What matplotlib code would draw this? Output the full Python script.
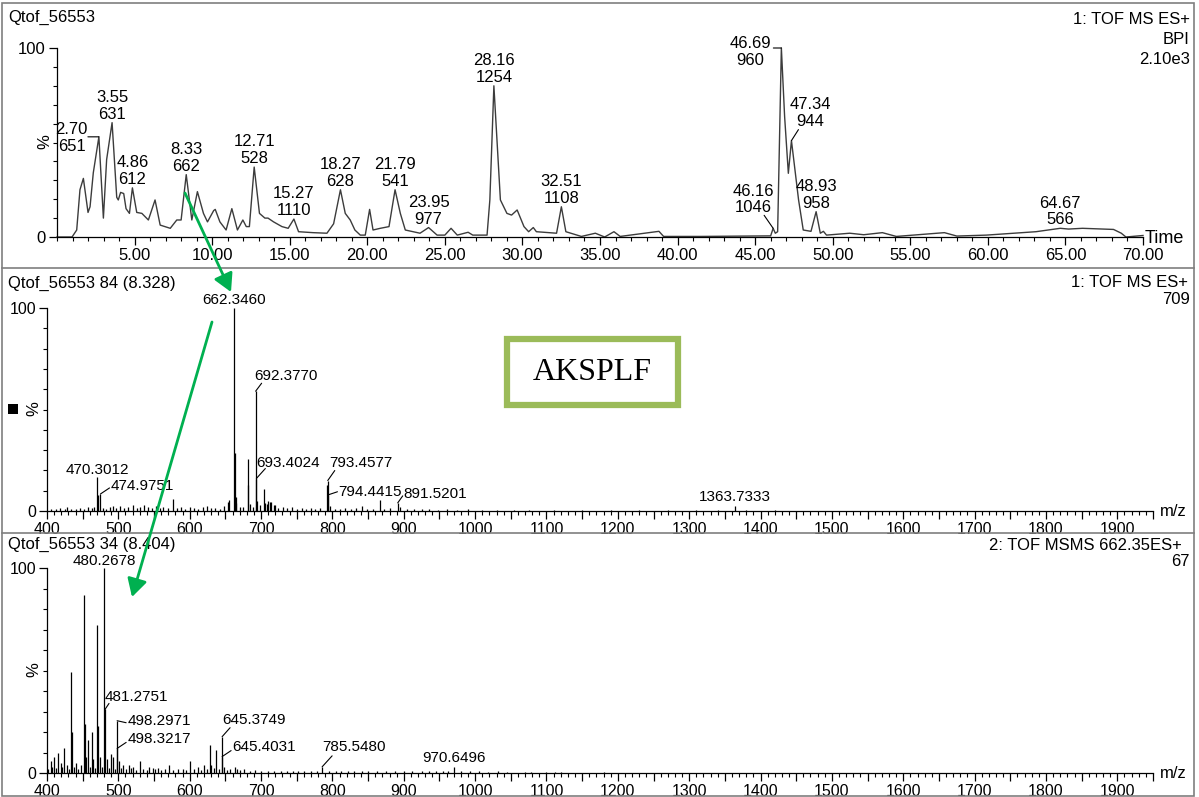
import matplotlib
matplotlib.use('Agg')
import numpy as np
import matplotlib.pyplot as plt
from matplotlib.patches import Rectangle, FancyArrowPatch
from matplotlib.lines import Line2D
from matplotlib.ticker import MultipleLocator, FixedLocator, FuncFormatter

plt.rcParams['font.family'] = ['Liberation Sans', 'DejaVu Sans']

# ---------------- data ----------------
# Base peak chromatogram (time in min, % intensity)
tic_time = [0.0, 0.97, 1.27, 1.48, 1.70, 2.00, 2.13, 2.34, 2.70, 2.99, 3.20, 3.55, 3.85, 3.95,
            4.10, 4.30, 4.45, 4.67, 4.86, 5.14, 5.47, 5.89, 6.32, 6.65, 7.30, 7.72, 8.00, 8.33,
            8.69, 9.05, 9.44, 9.70, 10.10, 10.20, 10.50, 10.90, 11.27, 11.63, 11.98, 12.20, 12.40,
            12.71, 13.05, 13.40, 13.60, 13.96, 14.50, 14.90, 15.27, 15.57, 16.50, 17.40, 17.83,
            18.27, 18.58, 18.90, 19.20, 19.55, 19.87, 20.15, 20.37, 20.84, 21.40, 21.79, 22.13,
            22.45, 23.40, 23.95, 24.50, 25.00, 25.40, 25.80, 26.50, 26.80, 27.72, 27.90, 28.16,
            28.58, 29.00, 29.30, 29.66, 30.10, 30.40, 30.70, 30.90, 32.20, 32.51, 32.80, 33.80,
            34.70, 35.30, 35.90, 36.30, 38.80, 39.10, 41.50, 46.00, 46.16, 46.30, 46.45, 46.69,
            46.90, 47.14, 47.34, 47.80, 48.10, 48.60, 48.93, 49.20, 49.40, 49.60, 51.10, 52.00,
            53.20, 54.10, 57.20, 58.00, 59.90, 63.10, 64.67, 65.20, 66.10, 68.10, 68.60, 68.90, 70.00]
tic_pct = [0.0, 0.0, 3.7, 25, 31, 13, 16, 34, 53, 10, 41, 60.5, 21, 19.6,
           23.6, 23, 15, 12.5, 26, 13, 12.5, 9, 19.6, 6.3, 4.6, 9, 9, 33,
           9, 24, 12.5, 8, 14, 14.6, 8, 3.7, 15, 3.7, 9, 5.5, 5.5,
           37, 12.5, 10, 10, 8, 5.5, 4.6, 9.5, 2.8, 2.3, 2, 7,
           25, 12.5, 9, 3.7, 1, 1, 14.6, 3.7, 4.6, 5.5, 25, 12.5,
           3.7, 2, 5, 1, 1, 4.6, 1, 2.5, 1, 1, 19.6, 80,
           19.6, 12.5, 11.6, 14.3, 5.5, 2.8, 5, 2.8, 2, 16, 2.8, 0.3,
           2, 0, 2.8, 0.3, 3, 0.3, 0.3, 0.6, 4.6, 2, 2.8, 100,
           63.7, 33.7, 51, 19.6, 3.7, 3, 13.4, 2, 3, 1, 2, 1.2,
           2.3, 0.3, 2.3, 0.5, 1, 2.8, 4.6, 4.2, 4.6, 4, 2, 0, 0.8]
tic_label_rt = [2.70, 3.55, 4.86, 8.33, 12.71, 15.27, 18.27, 21.79, 23.95, 28.16, 32.51,
                46.16, 46.69, 47.34, 48.93, 64.67]
tic_label_mz = ['651', '631', '612', '662', '528', '1110', '628', '541', '977', '1254', '1108',
                '1046', '960', '944', '958', '566']

# MS scan 84 (8.328 min)
ms1_mz = [470.3012, 471.30, 474.9751, 576.3, 655.3, 662.3460, 663.35, 664.35, 665.3, 681.3, 682.3,
          692.3770, 693.4024, 694.4, 704.4, 705.4, 710.4, 712.4, 720.0, 792.4, 793.4577, 794.4415,
          866.0, 891.5201, 1363.7333,
          405, 412, 418, 425, 428, 433, 440, 446, 452, 458, 463, 466, 478, 483, 488, 492, 497,
          503, 508, 514, 520, 526, 531, 536, 541, 547, 553, 558, 563, 569, 582, 588, 594, 600,
          606, 612, 618, 624, 630, 636, 642, 648, 653, 670, 675, 684, 688, 698, 708, 714,
          718, 724, 731, 737, 744, 750, 757, 763, 770, 776, 783, 797, 803, 810, 818, 826, 833,
          841, 849, 857, 872, 880, 895, 905, 915, 925, 936, 948, 960, 975, 990, 1010, 1030,
          1055, 1075, 1110, 1150, 1190, 1230, 1270, 1310, 1340, 1380, 1420]
ms1_int = [16.6, 8, 8.4, 5.7, 5.5, 100, 28.5, 7, 4, 25.5, 13,
           59, 16, 5, 11, 4, 5, 4.5, 3, 13, 15, 8,
           5.4, 4, 2.5,
           1.2, 0.8, 1.5, 1.0, 2.0, 1.2, 0.9, 1.6, 1.1, 1.8, 1.3, 2.2, 1.6, 1.2, 2.0, 2.6, 1.4,
           2.3, 1.5, 1.9, 2.8, 1.4, 2.2, 3.0, 1.8, 1.5, 2.4, 1.3, 2.0, 1.6, 1.4, 2.1, 1.2, 1.8,
           1.5, 1.1, 2.0, 2.6, 1.4, 1.7, 1.2, 2.4, 4.5, 2.0, 2.2, 3.5, 2.0, 2.8, 3.5, 4.5,
           3.0, 1.6, 2.2, 1.4, 1.8, 1.2, 1.6, 1.1, 1.4, 1.0, 1.5, 2.5, 1.2, 1.0, 1.6, 0.9, 1.3,
           2.4, 1.0, 1.2, 1.0, 1.4, 2.0, 1.0, 1.2, 0.8, 1.0, 0.7, 0.9, 0.6, 0.8, 0.6, 0.5,
           0.6, 0.5, 0.5, 0.4, 0.5, 0.4, 0.4, 0.5, 0.6, 0.4, 0.4]
ms1_labels = [662.3460, 692.3770, 693.4024, 470.3012, 474.9751, 793.4577, 794.4415, 891.5201, 1363.7333]

# MS/MS scan 34 (8.404 min), precursor 662.35
ms2_mz = [480.2678, 481.2751, 498.2971, 498.3217, 645.3749, 645.4031, 785.5480, 970.6496,
          405, 410, 416, 419, 424, 428, 434.3, 435.3, 441, 448, 452.3, 453.3, 455, 457, 463, 464,
          470.3, 471.3, 474, 484, 490, 492, 501, 507, 515, 521, 530, 543, 548, 556, 571, 583,
          600, 612, 620, 628, 630, 637.4, 648, 663, 666,
          402, 407, 413, 421, 431, 438, 444, 460, 467, 477, 487, 495, 504, 511, 518, 525, 535,
          540, 552, 560, 565, 577, 590, 595, 606, 616, 624, 634, 641, 652, 657, 670, 676, 685,
          692, 700, 710, 718, 728, 736, 745, 752, 760, 770, 778, 795, 805, 812, 822, 830, 842,
          850, 862, 875, 888, 900, 912, 925, 935, 945, 955, 962, 980, 993, 1005, 1018, 1032,
          1045, 1070, 1078, 1100, 1112, 1120, 1180]
ms2_int = [100, 31, 25.5, 12, 17.7, 8, 3, 3,
           6, 8, 10, 5, 12, 4, 49.4, 20, 5, 4, 87, 24, 8, 16, 20, 7,
           72, 23, 8, 7, 9.5, 8, 6, 4, 4, 3, 6, 3, 2.5, 2.5, 4, 2,
           6, 3, 4, 13.6, 4, 11, 3, 3, 2,
           2, 3, 2.5, 3, 2, 3, 2, 3, 2.5, 3, 2.5, 2, 2.5, 2, 2.5, 1.5, 2,
           1.5, 2, 1.5, 2, 1.5, 2, 1.5, 2, 1.5, 2, 2.5, 2, 1.5, 2, 1.5, 2, 1,
           1.5, 1, 1.2, 1, 1.2, 0.8, 1, 0.8, 1, 0.8, 1.2, 0.8, 1, 0.8, 1, 0.8, 1,
           0.8, 1, 0.8, 1, 0.8, 1, 0.8, 1, 0.8, 1, 0.8, 1, 1.2, 0.8, 0.7, 0.8,
           0.7, 0.6, 0.6, 0.6, 0.7, 0.6, 0.5]
ms2_labels = [480.2678, 481.2751, 498.2971, 498.3217, 645.3749, 645.4031, 785.5480, 970.6496]

# ---------------- layout ----------------
W, H = 1199, 797
fig = plt.figure(figsize=(W / 100, H / 100), dpi=100)


def add_ax(x0, ytop, x1, ybot):
    return fig.add_axes([x0 / W, 1 - ybot / H, (x1 - x0) / W, (ybot - ytop) / H])


def ftext(px, py, s, **kw):
    fig.text(px / W, 1 - py / H, s, **kw)


def style(ax, fs):
    for s in ['top', 'right']:
        ax.spines[s].set_visible(False)
    for s in ['left', 'bottom']:
        ax.spines[s].set_linewidth(0.9)
        ax.spines[s].set_color('black')
    ax.set_ylim(0, 100)
    ax.yaxis.set_major_locator(FixedLocator([0, 100]))
    ax.yaxis.set_minor_locator(MultipleLocator(10))
    ax.tick_params(axis='both', which='major', direction='out', length=6, width=0.9,
                   labelsize=fs, pad=2, colors='black')
    ax.tick_params(axis='both', which='minor', direction='out', length=3, width=0.8)
    ax.patch.set_alpha(0)


def label(ax, x, y, text, fs, dx=0, dy=1, ha='center', va='bottom', leader=None):
    ax.annotate(text, (x, y), xytext=(dx, dy), textcoords='offset pixels', ha=ha, va=va,
                fontsize=fs, multialignment='center', annotation_clip=False, linespacing=1.15)
    if leader is not None:
        ax.annotate('', (x, y), xytext=leader, textcoords='offset pixels', annotation_clip=False,
                    arrowprops=dict(arrowstyle='-', lw=0.8, color='black', shrinkA=0, shrinkB=0))


# panel frames
fig.add_artist(Rectangle((2 / W, 1 - 796 / H), 1192 / W, 793 / H, transform=fig.transFigure,
                         fill=False, edgecolor='#7f7f7f', lw=1.2))
for yy in (268, 533):
    fig.add_artist(Line2D([2 / W, 1194 / W], [1 - yy / H, 1 - yy / H], transform=fig.transFigure,
                          color='#7f7f7f', lw=1.2))

# ---- top: chromatogram ----
ax1 = add_ax(57, 48, 1143, 237)
style(ax1, 12)
ax1.set_xlim(0, 70)
ax1.xaxis.set_major_locator(FixedLocator(list(range(5, 71, 5))))
ax1.xaxis.set_major_formatter(FuncFormatter(lambda v, p: f"{v:.2f}"))
ax1.xaxis.set_minor_locator(MultipleLocator(1))
ax1.plot(tic_time, tic_pct, color='#3c3c3c', lw=1.0, clip_on=False)

top_layout = {
    2.70: dict(dx=-11, dy=-1, ha='right', va='center', leader=(-11, 0)),
    46.69: dict(dx=-10, dy=-4, ha='right', va='center', leader=(-8, 0)),
    46.16: dict(dx=-20, dy=13, leader=(-9, 13)),
    47.34: dict(dx=19, dy=12, leader=(7, 11)),
}
for rt, lab in zip(tic_label_rt, tic_label_mz):
    y = float(np.interp(rt, tic_time, tic_pct))
    kw = top_layout.get(rt, {})
    label(ax1, rt, y, f"{rt:.2f}\n{lab}", 12, **kw)

ftext(8, 17, "Qtof_56553", fontsize=12, ha='left', va='center')
ftext(1190, 19, "1: TOF MS ES+", fontsize=12, ha='right', va='center')
ftext(1190, 39, "BPI", fontsize=12, ha='right', va='center')
ftext(1190, 60, "2.10e3", fontsize=12, ha='right', va='center')
ftext(1145, 238, "Time", fontsize=13, ha='left', va='center')
ftext(45, 142, "%", fontsize=12, ha='center', va='center', rotation=90)


def spectrum_axes(ytop, ybot):
    ax = add_ax(47, ytop, 1153, ybot)
    style(ax, 11.5)
    ax.set_xlim(400, 1950)
    ax.xaxis.set_major_locator(MultipleLocator(50))
    ax.xaxis.set_major_formatter(FuncFormatter(lambda v, p: f"{v:.0f}" if abs(v % 100) < 1e-6 else ""))
    ax.xaxis.set_minor_locator(MultipleLocator(10))
    return ax


# ---- middle: MS ----
ax2 = spectrum_axes(308, 511)
order = np.argsort(ms1_int)
ax2.vlines(np.array(ms1_mz)[order], 0, np.array(ms1_int)[order], colors='black', lw=0.9, clip_on=False)
ms1_lookup = dict(zip(ms1_mz, ms1_int))
mid_layout = {
    662.3460: dict(dy=1),
    692.3770: dict(dx=-1, dy=8, ha='left', va='bottom', leader=(6, 8)),
    693.4024: dict(dx=0, dy=16, ha='left', va='center', leader=(9, 10)),
    470.3012: dict(dy=0),
    474.9751: dict(dx=10, dy=8, ha='left', va='center', leader=(9, 6)),
    793.4577: dict(dx=1, dy=18, ha='left', va='center', leader=(7, 10)),
    794.4415: dict(dx=10, dy=3, ha='left', va='center', leader=(9, 3)),
    891.5201: dict(dx=6, dy=9, ha='left', va='center', leader=(5, 7)),
    1363.7333: dict(dy=2),
}
for mz in ms1_labels:
    label(ax2, mz, ms1_lookup[mz], f"{mz:.4f}", 11, **mid_layout.get(mz, {}))

ftext(8, 283, "Qtof_56553 84 (8.328)", fontsize=12, ha='left', va='center')
ftext(1188, 282, "1: TOF MS ES+", fontsize=12, ha='right', va='center')
ftext(1190, 300, "709", fontsize=12, ha='right', va='center')
ftext(1160, 512, "m/z", fontsize=12, ha='left', va='center')
ftext(34, 409, "%", fontsize=12, ha='center', va='center', rotation=90)
fig.add_artist(Rectangle((8 / W, 1 - 414 / H), 10 / W, 10 / H, transform=fig.transFigure,
                         facecolor='black', edgecolor='none'))

# ---- bottom: MS/MS ----
ax3 = spectrum_axes(568, 773)
order = np.argsort(ms2_int)
ax3.vlines(np.array(ms2_mz)[order], 0, np.array(ms2_int)[order], colors='black', lw=0.9, clip_on=False)
ms2_lookup = dict(zip(ms2_mz, ms2_int))
bot_layout = {
    480.2678: dict(dy=0),
    481.2751: dict(dx=0, dy=5, ha='left', va='bottom', leader=(4, 6)),
    498.2971: dict(dx=10, dy=0, ha='left', va='center', leader=(9, -2)),
    498.3217: dict(dx=10, dy=9, ha='left', va='center', leader=(9, 6)),
    645.3749: dict(dx=0, dy=17, ha='left', va='center', leader=(8, 9)),
    645.4031: dict(dx=10, dy=10, ha='left', va='center', leader=(9, 6)),
    785.5480: dict(dx=0, dy=20, ha='left', va='center', leader=(10, 11)),
    970.6496: dict(dy=2),
}
for mz in ms2_labels:
    label(ax3, mz, ms2_lookup[mz], f"{mz:.4f}", 11, **bot_layout.get(mz, {}))

ftext(8, 544, "Qtof_56553 34 (8.404)", fontsize=12, ha='left', va='center')
ftext(1182, 545, "2: TOF MSMS 662.35ES+", fontsize=12, ha='right', va='center')
ftext(1190, 561, "67", fontsize=12, ha='right', va='center')
ftext(1160, 774, "m/z", fontsize=12, ha='left', va='center')
ftext(34, 670, "%", fontsize=12, ha='center', va='center', rotation=90)

# ---- peptide box ----
fig.add_artist(Rectangle((507 / W, 1 - 405 / H), 171 / W, 66 / H, transform=fig.transFigure,
                         fill=False, edgecolor='#9BBB59', lw=4.5))
ftext(592, 372, "AKSPLF", fontsize=23, ha='center', va='center',
      family=['Liberation Serif', 'DejaVu Serif'])

# ---- green arrows ----
for (xa, ya), (xb, yb) in [((185, 193), (231, 292)), ((212, 322), (132, 597))]:
    fig.add_artist(FancyArrowPatch((xa / W, 1 - ya / H), (xb / W, 1 - yb / H),
                                   transform=fig.transFigure, arrowstyle='-|>,head_length=0.45,head_width=0.25',
                                   mutation_scale=24, color='#00B050', lw=2.0, zorder=10,
                                   shrinkA=0, shrinkB=0))

fig.savefig('out.png', dpi=100)
